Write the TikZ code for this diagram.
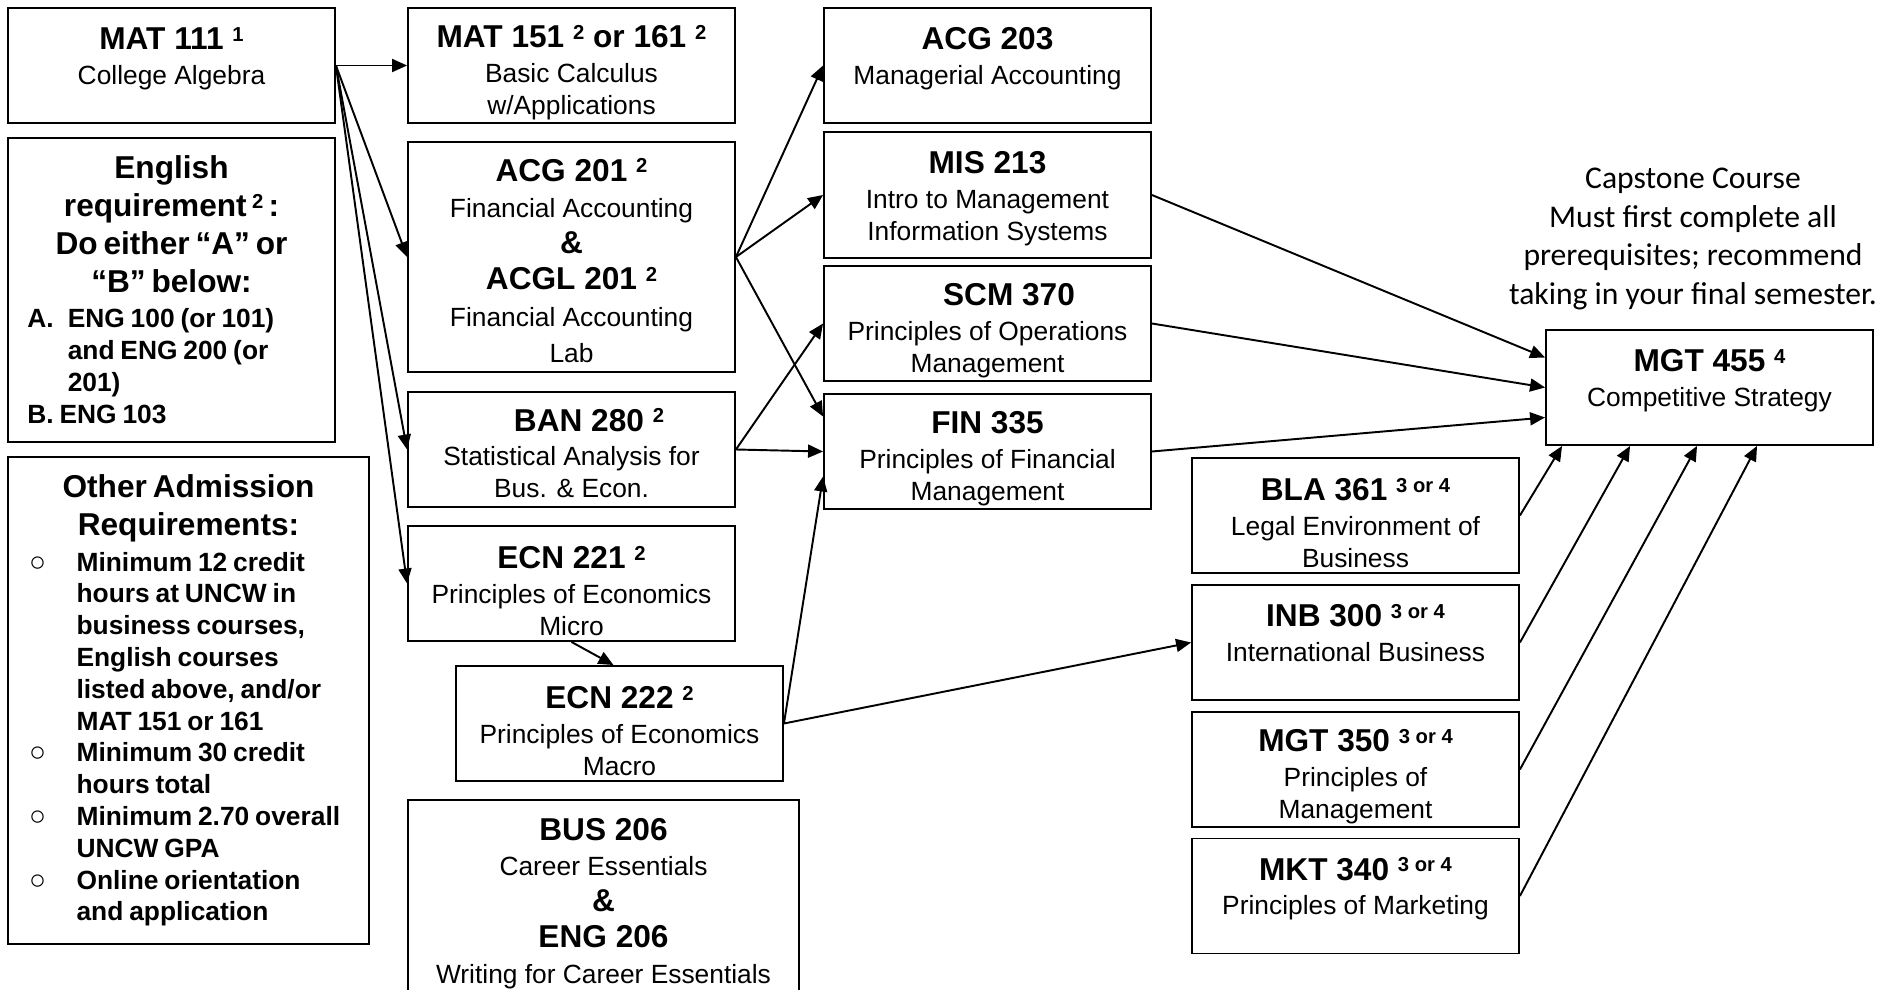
\documentclass[tikz,border=0pt]{standalone}
\usepackage{fontspec}
\setmainfont{Liberation Sans}
\newfontfamily\capfont{Carlito}
\usetikzlibrary{arrows.meta}
\setlength{\parindent}{0pt}
% course title, first title line with top strut, small raised note
\newcommand{\ttl}[1]{{\fontsize{18}{20}\selectfont\bfseries #1}}
\newcommand{\hd}[2][21pt]{\ttl{\rule{0pt}{#1}#2}}
\newcommand{\spr}[1]{\raisebox{4.8pt}{\fontsize{11.5}{11.5}\selectfont\bfseries #1}}
\newcommand{\opencirc}{\hspace{12pt}{\normalfont\fontsize{16}{16}\selectfont ○}}
\begin{document}
\begin{tikzpicture}[x=0.02cm, y=-0.02cm,
  crs/.style={draw, line width=1.1pt, inner sep=0pt, align=center,
    minimum width=6.54cm, minimum height=2.3cm, font=\fontsize{15}{18.1}\selectfont},
  req/.style={draw, line width=1.1pt, inner sep=0pt, text width=6.54cm},
  pre/.style={-{Triangle[length=0.3cm, width=0.26cm]}, line width=1.1pt}]
\useasboundingbox (0,0) rectangle (1884,990);

% left column
\node[crs] (mat111) at (171.5,65.5) {\ttl{MAT 111 \spr{1}}\\[1.7pt] College Algebra\\[-7pt] \mbox{}};
\node[req, minimum height=6.08cm] (eng) at (171.5,290) {%
  {\centering\fontsize{18}{21.5}\selectfont\bfseries \rule{0pt}{18pt}English\\ requirement\,\spr{2}\,:\\ Do either “A” or\\ “B” below:\par}
  \vspace{6.3pt}
  {\fontsize{15}{18.1}\selectfont\bfseries
  \begin{tabular}{@{\hspace{11pt}}p{23pt}@{}l@{}}
  A. & ENG 100 (or 101)\\
     & and ENG 200 (or\\
     & 201)\\
  \multicolumn{2}{@{\hspace{11pt}}l@{}}{B. ENG 103}
  \end{tabular}\par}};
\node[req, text width=7.22cm, minimum height=9.74cm] (other) at (188.5,700.5) {%
  {\centering\fontsize{18}{21.5}\selectfont\bfseries \rule{0pt}{15.3pt}Other Admission\\ Requirements:\par}
  \vspace{3pt}
  {\fontsize{15}{18.1}\selectfont\bfseries
  \begin{tabular}{@{}p{39pt}@{}l@{}}
  \opencirc & Minimum 12 credit\\
            & hours at UNCW in\\
            & business courses,\\
            & English courses\\
            & listed above, and/or\\
            & MAT 151 or 161\\
  \opencirc & Minimum 30 credit\\
            & hours total\\
  \opencirc & Minimum 2.70 overall\\
            & UNCW GPA\\
  \opencirc & Online orientation\\
            & and application
  \end{tabular}\par}};

% second column
\node[crs] (mat151) at (571.5,65.5) {\hd{MAT 151 \spr{2} or 161 \spr{2}}\\[1.7pt] Basic Calculus\\ w/Applications};
\node[crs, minimum height=4.6cm, font=\fontsize{15}{20.6}\selectfont] (acg201) at (571.5,257)
  {\hd[17pt]{ACG 201 \spr{2}}\\ Financial Accounting\\ \ttl{\&}\\ \ttl{ACGL 201 \spr{2}}\\ Financial Accounting\\ Lab};
\node[crs] (ban280) at (571.5,449.5) {\hd[17pt]{\hspace*{0.7cm}BAN 280 \spr{2}}\\[1.7pt] Statistical Analysis for\\ Bus. \& Econ.};
\node[crs] (ecn221) at (571.5,583.5) {\hd{ECN 221 \spr{2}}\\[1.7pt] Principles of Economics\\ Micro};
\node[crs] (ecn222) at (619.5,723.5) {\hd{ECN 222 \spr{2}}\\[1.7pt] Principles of Economics\\ Macro};
\node[crs, minimum width=7.82cm, minimum height=3.84cm, font=\fontsize{15}{20.4}\selectfont] (bus206) at (603.5,896)
  {\hd{BUS 206}\\ Career Essentials\\ \ttl{\&}\\ \ttl{ENG 206}\\ Writing for Career Essentials};

% third column
\node[crs] (acg203) at (987.5,65.5) {\ttl{ACG 203}\\[1.7pt] Managerial Accounting\\[-7pt] \mbox{}};
\node[crs, minimum height=2.52cm] (mis213) at (987.5,195) {\hd[17pt]{MIS 213}\\[1.7pt] Intro to Management\\ Information Systems};
\node[crs] (scm370) at (987.5,323.5) {\hd{\hspace*{0.86cm}SCM 370}\\[1.7pt] Principles of Operations\\ Management};
\node[crs] (fin335) at (987.5,451.5) {\hd{FIN 335}\\[1.7pt] Principles of Financial\\ Management};

% fourth column
\node[crs] (bla361) at (1355.5,515.5) {\hd{BLA 361 \spr{3 or 4}}\\[1.7pt] Legal Environment of\\ Business};
\node[crs] (inb300) at (1355.5,642.5) {\ttl{INB 300 \spr{3 or 4}}\\[1.7pt] International Business\\[-7pt] \mbox{}};
\node[crs] (mgt350) at (1355.5,769.5) {\hd{MGT 350 \spr{3 or 4}}\\[1.7pt] Principles of\\ Management};
\node[crs] (mkt340) at (1355.5,896) {\ttl{MKT 340 \spr{3 or 4}}\\[1.7pt] Principles of Marketing\\[-7pt] \mbox{}};

% capstone
\node[font=\capfont\fontsize{18}{21.9}\selectfont, align=center] (capnote) at (1693,239)
  {Capstone Course\\ Must first complete all\\ prerequisites; recommend\\ taking in your final semester.};
\node[crs] (mgt455) at (1709.5,387.5) {\ttl{MGT 455 \spr{4}}\\[1.7pt] Competitive Strategy\\[-7pt] \mbox{}};

% prerequisites
\draw[pre] (mat111.east) -- (mat151.west);
\draw[pre] (mat111.east) -- (acg201.west);
\draw[pre] (mat111.east) -- (ban280.west);
\draw[pre] (mat111.east) -- (ecn221.west);
\draw[pre] (acg201.east) -- (acg203.west);
\draw[pre] (acg201.east) -- (mis213.west);
\draw[pre] (acg201.east) -- ([yshift=0.7cm]fin335.west);
\draw[pre] (ban280.east) -- (scm370.west);
\draw[pre] (ban280.east) -- (fin335.west);
\draw[pre] (ecn221.south) -- ([xshift=-0.12cm]ecn222.north);
\draw[pre] (ecn222.east) -- ([yshift=-0.5cm]fin335.west);
\draw[pre] (ecn222.east) -- (inb300.west);
\draw[pre] (mis213.east) -- ([yshift=0.6cm]mgt455.west);
\draw[pre] (scm370.east) -- (mgt455.west);
\draw[pre] (fin335.east) -- ([yshift=-0.6cm]mgt455.west);
\draw[pre] (bla361.east) -- ([xshift=0.34cm]mgt455.south west);
\draw[pre] (inb300.east) -- ([xshift=1.7cm]mgt455.south west);
\draw[pre] (mgt350.east) -- ([xshift=3.04cm]mgt455.south west);
\draw[pre] (mkt340.east) -- ([xshift=4.24cm]mgt455.south west);
\end{tikzpicture}
\end{document}
